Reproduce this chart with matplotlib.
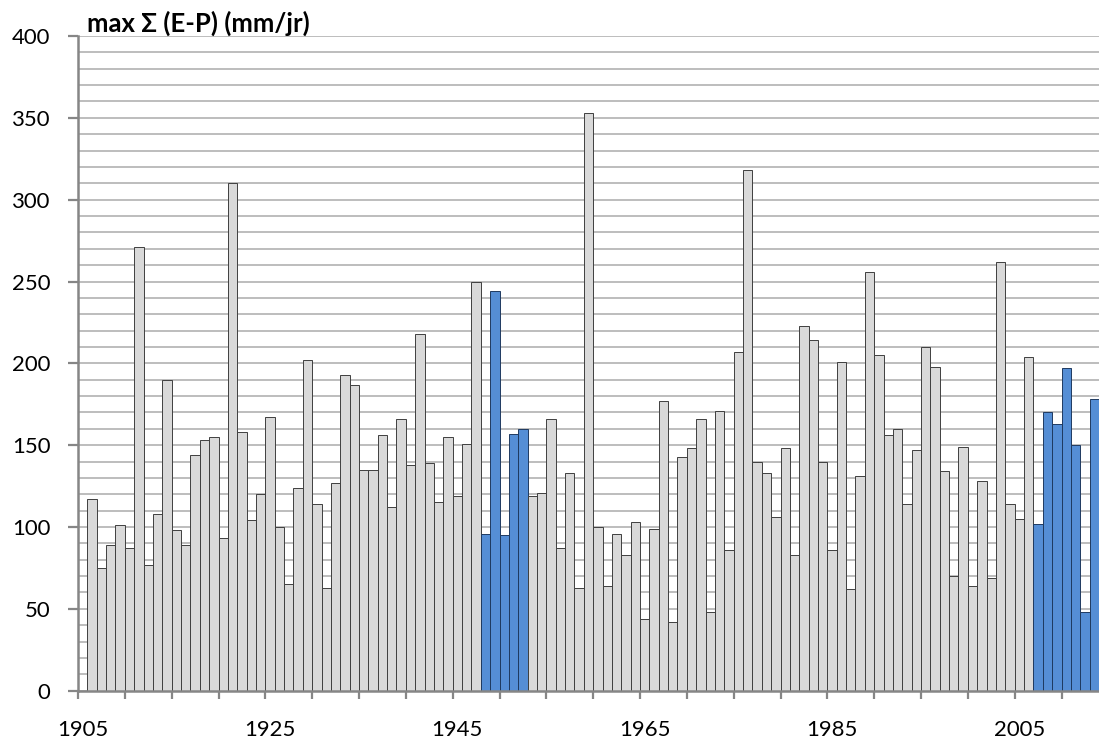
import numpy as np
import matplotlib
matplotlib.use("Agg")
import matplotlib.pyplot as plt
from matplotlib.ticker import MultipleLocator, FixedLocator

# Annual maximum cumulative precipitation deficit, 1905-2013 (1905 has no value)
years = list(range(1905, 2014))
values = [
    np.nan, 117, 75, 89, 101, 87, 271, 77, 108, 190,      # 1905-1914
    98, 89, 144, 153, 155, 93, 310, 158, 104, 120,        # 1915-1924
    167, 100, 65, 124, 202, 114, 63, 127, 193, 187,       # 1925-1934
    135, 135, 156, 112, 166, 138, 218, 139, 115, 155,     # 1935-1944
    119, 151, 250, 96, 244, 95, 157, 160, 119, 121,       # 1945-1954
    166, 87, 133, 63, 353, 100, 64, 96, 83, 103,          # 1955-1964
    44, 99, 177, 42, 143, 148, 166, 48, 171, 86,          # 1965-1974
    207, 318, 140, 133, 106, 148, 83, 223, 214, 140,      # 1975-1984
    86, 201, 62, 131, 256, 205, 156, 160, 114, 147,       # 1985-1994
    210, 198, 134, 70, 149, 64, 128, 69, 262, 114,        # 1995-2004
    105, 204, 102, 170, 163, 197, 150, 48, 178,           # 2005-2013
]
highlight_years = [1948, 1949, 1950, 1951, 1952,
                   2007, 2008, 2009, 2010, 2011, 2012, 2013]
label_years = [1905, 1925, 1945, 1965, 1985, 2005]
title_text = "max \u03a3 (E-P) (mm/jr)"

grey_fill = "#D9D9D9"
grey_edge = "#3F3F3F"
blue_fill = "#558ED5"
blue_edge = "#1F3A60"
axis_col = "#868686"
grid_col = "#ABABAB"

fig = plt.figure(figsize=(10.99, 7.42), dpi=100)
renderer = fig.canvas.get_renderer()


def fit_size(text, target_px, weight="normal", family=("Lato", "DejaVu Sans")):
    """Font size (pt) at which `text` spans target_px pixels."""
    probe = fig.text(0, 0, text, fontsize=10, fontweight=weight, family=list(family))
    w = probe.get_window_extent(renderer).width
    probe.remove()
    return 10 * target_px / w


tick_size = fit_size("1905", 51.5)
title_size = fit_size(title_text, 222, weight="bold")

ax = fig.add_axes([78 / 1099, 1 - 690.7 / 742, 1 - 78 / 1099, (690.7 - 36) / 742])

x = np.arange(len(years))
fills = [blue_fill if y in highlight_years else grey_fill for y in years]
edges = [blue_edge if y in highlight_years else grey_edge for y in years]
ax.bar(x, values, width=1.0, color=fills, edgecolor=edges, linewidth=0.7, zorder=3)

ax.set_xlim(-0.5, len(years) - 0.5)
ax.set_ylim(0, 400)

# horizontal gridlines every 10, labels every 50
ax.yaxis.set_major_locator(MultipleLocator(50))
ax.yaxis.set_minor_locator(MultipleLocator(10))
ax.grid(axis="y", which="both", color=grid_col, linewidth=1.1, zorder=1)
ax.set_axisbelow(True)

# category axis: ticks between categories every 5, labels every 20 years
ax.xaxis.set_major_locator(FixedLocator([years.index(y) for y in label_years]))
ax.set_xticklabels([str(y) for y in label_years])
ax.xaxis.set_minor_locator(FixedLocator(np.arange(-0.5, len(years), 5)))
ax.tick_params(axis="x", which="major", length=0, pad=21)
ax.tick_params(axis="x", which="minor", length=6, width=1.6, color=axis_col,
               direction="out")
ax.tick_params(axis="y", which="major", length=7, width=1.6, color=axis_col,
               direction="out", pad=13)
ax.tick_params(axis="y", which="minor", length=0)

for lab in ax.get_xticklabels() + ax.get_yticklabels():
    lab.set_fontfamily("Lato")
    lab.set_fontsize(tick_size)
    lab.set_color("black")

for side in ("top", "right"):
    ax.spines[side].set_visible(False)
for side in ("left", "bottom"):
    ax.spines[side].set_color(axis_col)
    ax.spines[side].set_linewidth(1.8)
    ax.spines[side].set_zorder(4)

fig.text(87 / 1099, 1 - 32 / 742, title_text, fontsize=title_size, fontweight="bold",
         family=["Lato", "DejaVu Sans"], ha="left", va="baseline")

fig.savefig("out.png", dpi=100)
